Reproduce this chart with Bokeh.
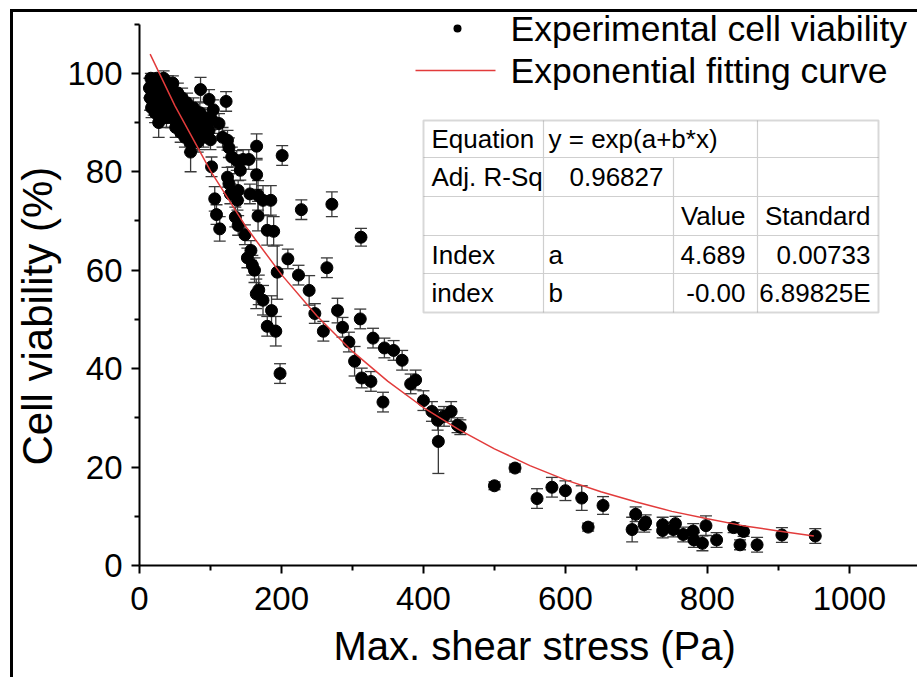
from bokeh.plotting import figure
from bokeh.models import (Range1d, FixedTicker, ColumnDataSource, Whisker, TeeHead,
                          Label, BoxAnnotation, Title)
from bokeh.embed import file_html
from bokeh.resources import INLINE

# ---------------- data ----------------
stress = [14, 15, 16, 17, 18, 19, 20, 21, 22, 23, 24, 25, 26, 27, 28, 29, 30, 31, 32, 33,
          34, 35, 36, 37, 38, 39, 40, 41, 42, 43, 44, 45, 46, 47, 48, 50, 51, 52, 54, 55,
          56, 58, 59, 60, 62, 63, 64, 66, 67, 68, 70, 71, 72, 74, 75, 76, 78, 79, 80, 82,
          84, 85, 86, 88, 90, 92, 94, 96, 98, 98, 100,
          102, 104, 101.5, 106, 108.5, 112, 113, 117, 122, 124, 124, 126, 126, 128, 130, 135,
          137, 138, 139, 139, 142, 146, 148.5, 152, 154, 155.5, 157, 159, 162, 164.5, 165,
          165, 167, 167, 168, 174, 174, 180, 180, 185, 186, 189, 192, 194, 198, 201,
          209, 224, 228, 239, 247, 259, 264, 271, 279, 286, 295, 303, 311, 312, 313, 326,
          329, 343, 345, 358, 370, 382, 389, 400, 412, 420, 421, 429, 439, 448, 452,
          500, 529, 560, 581, 600, 623, 632, 653, 694, 699, 711, 713, 737, 737, 752, 755,
          766, 780, 781, 793, 798, 813, 837, 846, 851, 870, 905, 952]
viability = [97, 95, 99, 93, 96, 98, 94, 97, 92, 95, 99, 96, 93, 90, 97, 94, 98, 95, 92, 96,
             99, 93, 97, 94, 91, 96, 98, 93, 95, 97, 91, 94, 96, 98, 92, 95, 89, 93, 96, 91,
             94, 88, 92, 95, 90, 93, 87, 91, 94, 89, 92, 86, 84, 90, 88, 93, 87, 91, 89, 86,
             86.5, 92, 96.7, 89, 87, 91, 88, 90, 94.7, 88.4, 86.5,
             90.6, 92.6, 81, 74.5, 71.3, 89.8, 68.4, 87, 94.3, 86.4, 78.9, 84.9, 77.6, 75.5, 83, 70.8,
             82.3, 74.2, 76.2, 69.1, 80.3, 82.5, 67.2, 62.5, 82.5, 75.5, 64, 61, 60, 55.2, 85.2,
             79.4, 75.2, 71, 56, 74.2, 53.9, 68.1, 48.6, 74.2, 51.8, 67.9, 47.6, 59.6, 39, 83.3,
             62.3, 59, 72.3, 55.9, 51.2, 47.6, 60.5, 73.4, 51.8, 48.4, 45.4, 41.5, 50.1, 66.7, 38.1, 37.4,
             46.2, 33.2, 44.2, 43.7, 41.7, 36.9, 37.7, 33.5, 31.3, 29.5, 25.2, 30.3, 31.3, 28.5, 28.1,
             16.2, 19.8, 13.6, 15.9, 15.2, 13.7, 7.8, 12.2, 7.3, 10.4, 8.3, 8.8, 8.3, 7.1, 7.3, 8.5,
             6.3, 7.0, 5.2, 4.5, 8.1, 5.2, 7.7, 4.2, 6.9, 4.2, 6.2, 6.0]
viability_err = [2, 2.5, 1, 2, 2, 1.5, 2.5, 2, 2, 2, 1, 2, 2, 3, 2, 2, 1.5, 2, 2, 2,
                 1.5, 2, 2, 2, 2, 2, 1.5, 2, 2, 2, 2, 2, 2, 1.5, 2, 2, 2, 2, 2, 2,
                 2, 2, 2, 2, 2, 2, 2, 2, 2, 2, 2, 2, 4, 2, 2, 2, 2, 2, 2, 2,
                 2, 2, 2.5, 2, 2, 2, 2, 2, 2, 2, 2,
                 2, 2, 2, 2.5, 2, 2, 2.5, 2, 2, 2, 2, 2, 2, 2, 2, 2,
                 2, 2, 2, 2, 2, 2, 2, 2, 2, 2, 2, 2, 2.5, 3, 2.5,
                 3, 3, 3, 3, 3, 3, 3, 2, 3, 3, 3, 3, 5.5, 2, 2,
                 2, 2, 2, 3, 2, 2, 2, 2.5, 2.5, 2, 2, 3, 2, 1.8, 2, 2,
                 2, 2, 2, 2, 2, 2, 2, 2, 2, 2, 6.5, 2, 2, 1.5, 1.5,
                 0.8, 0.8, 2, 2, 2, 2.5, 0.8, 1.8, 2.5, 1.5, 1.5, 1.5, 1.5, 1.5, 1.5, 1.5,
                 1.5, 1.5, 1.5, 1.5, 2, 1.5, 1, 1, 1, 1.5, 1.5, 1.5]

# exponential fitting curve, read along its length
fit_stress = [15, 50, 100, 150, 200, 250, 300, 350, 400, 450, 500, 550, 600, 650, 700,
              750, 800, 850, 900, 950]
fit_viability = [103.9, 93.4, 80.2, 68.8, 59.1, 50.7, 43.5, 37.4, 32.1, 27.6, 23.7, 20.3,
                 17.4, 15.0, 12.9, 11.0, 9.5, 8.1, 7.0, 6.0]

x_ticks = [0, 200, 400, 600, 800, 1000]
x_minor_ticks = [100, 300, 500, 700, 900]
y_ticks = [0, 20, 40, 60, 80, 100]
y_minor_ticks = [10, 30, 50, 70, 90, 110]

legend_labels = ["Experimental cell viability", "Exponential fitting curve"]
x_title = "Max. shear stress (Pa)"
y_title = "Cell viability (%)"

# fit-report table: (text, column anchor, row, align)
table_cells = [
    ("Equation", 0, 0, "left"), ("y = exp(a+b*x)", 1, 0, "left"),
    ("Adj. R-Sq", 0, 1, "left"), ("0.96827", 2, 1, "right"),
    ("Value", 3, 2, "right"), ("Standard", 4, 2, "right"),
    ("Index", 0, 3, "left"), ("a", 1, 3, "left"), ("4.689", 3, 3, "right"), ("0.00733", 4, 3, "right"),
    ("index", 0, 4, "left"), ("b", 1, 4, "left"), ("-0.00", 3, 4, "right"), ("6.89825E", 4, 4, "right"),
]

FONT = "Liberation Sans"
RED = "#e23b3b"

# ---------------- figure ----------------
p = figure(width=917, height=677, x_range=Range1d(0, 1096), y_range=Range1d(0, 114.8),
           output_backend="svg", toolbar_location=None,
           min_border_left=139, min_border_right=0, min_border_top=0, min_border_bottom=112)
p.outline_line_color = None
p.grid.visible = False
p.background_fill_alpha = 0
p.border_fill_alpha = 0
# outer black frame of the picture (left and top edges)
p.styles = {
    "background-color": "white",
    "background-image": "linear-gradient(#000, #000), linear-gradient(#000, #000)",
    "background-size": "3px 100%, 100% 3px",
    "background-position": "10px 9px, 10px 9px",
    "background-repeat": "no-repeat",
}

for ax in (p.xaxis[0], p.yaxis[0]):
    ax.axis_line_width = 2
    ax.axis_line_color = "black"
    ax.major_tick_line_width = 2
    ax.minor_tick_line_width = 2
    ax.major_tick_in = 0
    ax.minor_tick_in = 0
    ax.major_tick_out = 8
    ax.minor_tick_out = 5
    ax.major_label_text_font = FONT
    ax.major_label_text_font_size = "33px"
    ax.major_label_text_color = "black"

p.xaxis.ticker = FixedTicker(ticks=x_ticks, minor_ticks=x_minor_ticks)
p.yaxis.ticker = FixedTicker(ticks=y_ticks, minor_ticks=y_minor_ticks)
p.yaxis.bounds = (0, 110)
p.xaxis.major_label_standoff = 13
p.yaxis.major_label_standoff = 9

# axis titles (as side titles so they can be shifted like the original)
p.add_layout(Title(text=y_title, align="left", offset=100, standoff=8,
                   text_font=FONT, text_font_size="42px", text_font_style="normal",
                   text_color="black"), "left")
p.add_layout(Title(text=x_title, align="left", offset=194, standoff=19,
                   text_font=FONT, text_font_size="40px", text_font_style="normal",
                   text_color="black"), "below")

src = ColumnDataSource(dict(
    x=stress, y=viability,
    upper=[v + e for v, e in zip(viability, viability_err)],
    lower=[v - e for v, e in zip(viability, viability_err)],
))
ERR = "#3a3a3a"
wh = Whisker(base="x", upper="upper", lower="lower", source=src, dimension="height",
             line_color=ERR, line_width=1.3,
             upper_head=TeeHead(size=12, line_color=ERR, line_width=1.3),
             lower_head=TeeHead(size=12, line_color=ERR, line_width=1.3))
wh.level = "underlay"
p.add_layout(wh)
p.scatter("x", "y", source=src, size=12, color="black")
p.line(fit_stress, fit_viability, line_color=RED, line_width=1.5)


def sbox(**kw):
    return BoxAnnotation(left_units="screen", right_units="screen",
                         top_units="screen", bottom_units="screen", **kw)

# ---------------- legend ----------------
p.add_layout(sbox(left=314, right=322, bottom=533, top=541, border_radius=4,
                  fill_color="black", fill_alpha=1, line_color=None))
p.add_layout(sbox(left=276, right=356, bottom=494.2, top=495.8,
                  fill_color=RED, fill_alpha=1, line_color=None))
for lab, sy in zip(legend_labels, [537, 495]):
    p.add_layout(Label(x=371, y=sy, x_units="screen", y_units="screen", text=lab,
                       text_align="left", text_baseline="middle",
                       text_font=FONT, text_font_size="35.5px", text_color="black"))

# ---------------- fit table ----------------
T_LEFT, T_RIGHT, T_TOP, T_BOTTOM = 284, 739, 445, 253
row_lines = [408, 369, 330, 292]
row_centers = [427, 389, 350, 311, 273]
col_left_anchor = [292, 409]
col_right_anchor = {2: 524, 3: 606, 4: 731}

p.add_layout(sbox(left=T_LEFT, right=T_RIGHT, top=T_TOP, bottom=T_BOTTOM,
                  fill_color="white", fill_alpha=1, line_color=None))
GRID = "#cfcfcf"
for sy in row_lines:
    p.add_layout(sbox(left=T_LEFT, right=T_RIGHT, top=sy + 0.6, bottom=sy - 0.6,
                      fill_color=GRID, fill_alpha=1, line_color=None))
for sx, top in [(404, T_TOP), (618, T_TOP), (534, row_lines[0])]:
    p.add_layout(sbox(left=sx - 0.6, right=sx + 0.6, top=top, bottom=T_BOTTOM,
                      fill_color=GRID, fill_alpha=1, line_color=None))
p.add_layout(sbox(left=T_LEFT, right=T_RIGHT, top=T_TOP, bottom=T_BOTTOM,
                  fill_alpha=0, line_color="#7d7d7d", line_width=2))

for text, col, row, align in table_cells:
    sx = col_left_anchor[col] if align == "left" else col_right_anchor[col]
    p.add_layout(Label(x=sx, y=row_centers[row], x_units="screen", y_units="screen",
                       text=text, text_align=align, text_baseline="middle",
                       text_font=FONT, text_font_size="26px", text_color="black"))

open("out.html", "w").write(file_html(p, INLINE))
